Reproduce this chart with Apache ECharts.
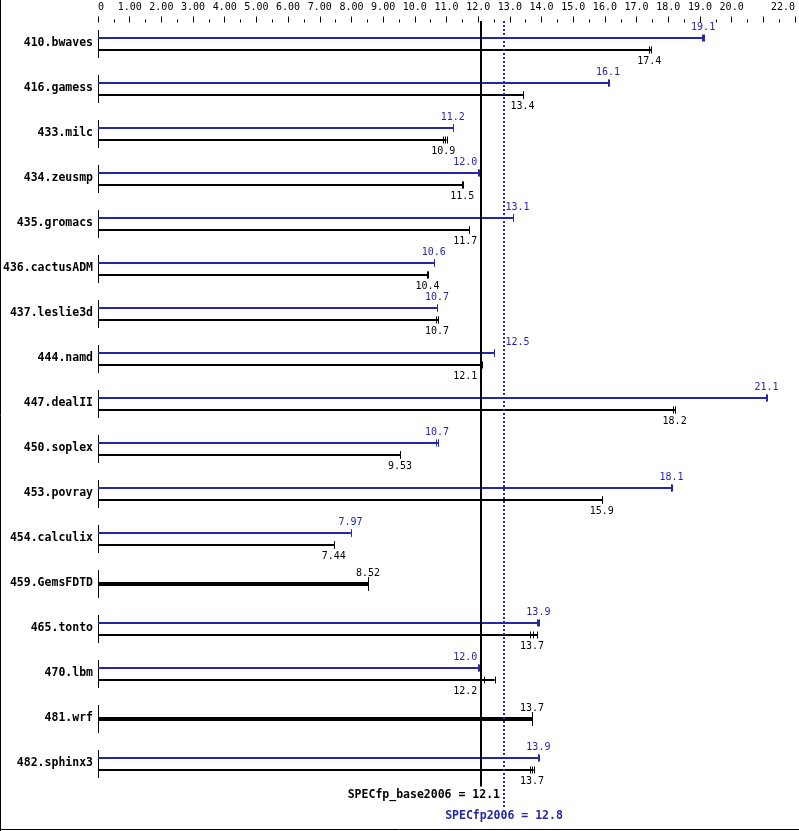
<!DOCTYPE html>
<html>
<head>
<meta charset="utf-8">
<script src="https://cdn.jsdelivr.net/npm/echarts@6/dist/echarts.min.js"></script>
<style>
html,body{margin:0;padding:0;background:#fff;}
#c{width:799px;height:831px;}
</style>
</head>
<body>
<div id="c"></div>
<script>
const categories = ['410.bwaves','416.gamess','433.milc','434.zeusmp','435.gromacs','436.cactusADM','437.leslie3d','444.namd','447.dealII','450.soplex','453.povray','454.calculix','459.GemsFDTD','465.tonto','470.lbm','481.wrf','482.sphinx3'];
const peak = [19.1, 16.1, 11.2, 12.0, 13.1, 10.6, 10.7, 12.5, 21.1, 10.7, 18.1, 7.97, null, 13.9, 12.0, null, 13.9];
const peakRuns = [[19.07,19.1,19.14],[16.1,16.1,16.12],[11.2,11.2,11.21],[12.0,12.0,12.01],[13.1,13.1,13.11],[10.6,10.6,10.61],[10.7,10.7,10.71],[12.5,12.5,12.51],[21.08,21.1,21.12],[10.68,10.72,10.74],[18.1,18.1,18.11],[7.97,7.97,7.98],null,[13.87,13.9,13.93],[11.98,12.0,12.03],null,[13.88,13.9,13.93]];
const base = [17.4, 13.4, 10.9, 11.5, 11.7, 10.4, 10.7, 12.1, 18.2, 9.53, 15.9, 7.44, 8.52, 13.7, 12.2, 13.7, 13.7];
const baseRuns = [[17.4,17.4,17.46],[13.4,13.4,13.41],[10.9,10.95,11.0],[11.5,11.5,11.51],[11.7,11.7,11.71],[10.4,10.4,10.41],[10.68,10.72,10.74],[12.08,12.1,12.12],[18.15,18.2,18.22],[9.53,9.53,9.54],[15.9,15.9,15.91],[7.44,7.44,7.45],[8.52,8.52,8.53],[13.63,13.72,13.86],[12.07,12.17,12.52],[13.7,13.7,13.71],[13.65,13.7,13.75]];
const specBase = 12.1;
const specPeak = 12.8;
const baseTitle = 'SPECfp_base2006 = 12.1';
const peakTitle = 'SPECfp2006 = 12.8';
const tickLabels = ['0','1.00','2.00','3.00','4.00','5.00','6.00','7.00','8.00','9.00','10.0','11.0','12.0','13.0','14.0','15.0','16.0','17.0','18.0','19.0','20.0','','22.0'];

const BLUE = '#2626a8';
const MONO = '"DejaVu Sans Mono", "Liberation Mono", monospace';
const valFont = '10px ' + MONO;
const boldFont = 'bold 11.5px ' + MONO;

const mctx = document.createElement('canvas').getContext('2d');
function textW(t, font){ mctx.font = font; return mctx.measureText(t).width; }

function placeLabel(cx, w, lines){
  const overlaps = (c) => lines.some(L => (c - w/2) < L + 2 && (c + w/2) > L - 2);
  if (!overlaps(cx)) return cx;
  let best = cx, bestD = Infinity;
  lines.forEach(L => {
    [L - 4 - w/2, L + 2 + w/2].forEach(c => {
      if (!overlaps(c) && Math.abs(c - cx) < bestD) { bestD = Math.abs(c - cx); best = c; }
    });
  });
  return best;
}

function fmt(v){ return v.toPrecision(3); }

const chart = echarts.init(document.getElementById('c'), null, {renderer:'canvas'});

function renderBench(params, api){
  const i = api.value(1);
  const p0 = api.coord([0, i]);
  const x0 = Math.round(p0[0]);
  const yc = Math.round(p0[1]);
  const bx = api.coord([specBase, i])[0];
  const px = api.coord([specPeak, i])[0];
  const lines = [bx, px];
  const ch = [];
  ch.push({type:'line', shape:{x1:x0+0.5, y1:yc-14, x2:x0+0.5, y2:yc+14}, style:{stroke:'#000', lineWidth:1}});
  const hasPeak = peak[i] != null;
  function drawBar(runs, med, y, color, lw, capH, labelAbove){
    const xmax = api.coord([Math.max.apply(null, runs), i])[0];
    ch.push({type:'line', shape:{x1:x0, y1:y, x2:xmax, y2:y}, style:{stroke:color, lineWidth:lw}});
    runs.forEach(r => {
      const rx = Math.round(api.coord([r, i])[0]) + 0.5;
      ch.push({type:'line', shape:{x1:rx, y1:y-capH, x2:rx, y2:y+capH}, style:{stroke:color, lineWidth:1}});
    });
    const t = fmt(med);
    const w = textW(t, valFont);
    const cx = placeLabel(api.coord([med, i])[0], w, lines);
    ch.push({type:'text', style:{text:t, x:cx, y: labelAbove ? y - 11 : y + 11.5, fill:color, font:valFont, align:'center', verticalAlign:'middle'}});
  }
  if (hasPeak){
    drawBar(peakRuns[i], peak[i], yc - 6, BLUE, 2, 3.5, true);
    drawBar(baseRuns[i], base[i], yc + 6, '#000', 2, 3.5, false);
  } else {
    drawBar(baseRuns[i], base[i], yc, '#000', 4, 7, true);
  }
  return {type:'group', children: ch};
}

function renderRefs(params, api){
  const cs = params.coordSys;
  const top = cs.y, bottom = cs.y + cs.height;
  const bx = Math.round(api.coord([specBase, 0])[0]);
  const px = Math.round(api.coord([specPeak, 0])[0]);
  const ch = [];
  ch.push({type:'line', shape:{x1:bx, y1:top, x2:bx, y2:bottom+0.5}, style:{stroke:'#000', lineWidth:2}});
  ch.push({type:'line', shape:{x1:px, y1:top, x2:px, y2:bottom+21}, style:{stroke:BLUE, lineWidth:2, lineDash:[2,2]}});
  const w = textW(baseTitle, boldFont);
  const cx = placeLabel(bx, w, [px]);
  ch.push({type:'text', style:{text:baseTitle, x:cx, y:bottom+9, fill:'#000', font:boldFont, align:'center', verticalAlign:'middle'}});
  ch.push({type:'text', style:{text:peakTitle, x:px, y:bottom+30.5, fill:BLUE, font:boldFont, align:'center', verticalAlign:'middle'}});
  return {type:'group', children: ch};
}

chart.setOption({
  animation:false,
  backgroundColor:'#fff',
  grid:{left:97, top:21, width:698, height:765},
  xAxis:{
    type:'value', position:'top', min:0, max:22, interval:1, offset:-1.5,
    axisLine:{show:false},
    axisTick:{show:true, length:6, lineStyle:{color:'#000', width:1}},
    minorTick:{show:true, splitNumber:2, length:3, lineStyle:{color:'#000', width:1}},
    splitLine:{show:false}, minorSplitLine:{show:false},
    axisLabel:{formatter:v => tickLabels[Math.round(v)], fontFamily:MONO, fontSize:10, color:'#000', margin:10, alignMinLabel:'left', alignMaxLabel:'right', showMinLabel:true, showMaxLabel:true}
  },
  yAxis:{
    type:'category', inverse:true, data:categories,
    axisLine:{show:false}, axisTick:{show:false}, splitLine:{show:false},
    axisLabel:{fontFamily:MONO, fontSize:11.5, fontWeight:'bold', color:'#000', margin:5}
  },
  graphic:[
    {type:'line', shape:{x1:0.5, y1:0, x2:0.5, y2:831}, style:{stroke:'#000', lineWidth:1}, z:100},
    {type:'line', shape:{x1:0, y1:829.5, x2:799, y2:829.5}, style:{stroke:'#000', lineWidth:1}, z:100}
  ],
  series:[
    {type:'custom', renderItem:renderBench, clip:false, encode:{x:0, y:1},
     data: categories.map((c, i) => [0, i])},
    {type:'custom', renderItem:renderRefs, clip:false, encode:{x:0, y:1}, z:3,
     data:[[0, 0]]}
  ]
});
</script>
</body>
</html>
